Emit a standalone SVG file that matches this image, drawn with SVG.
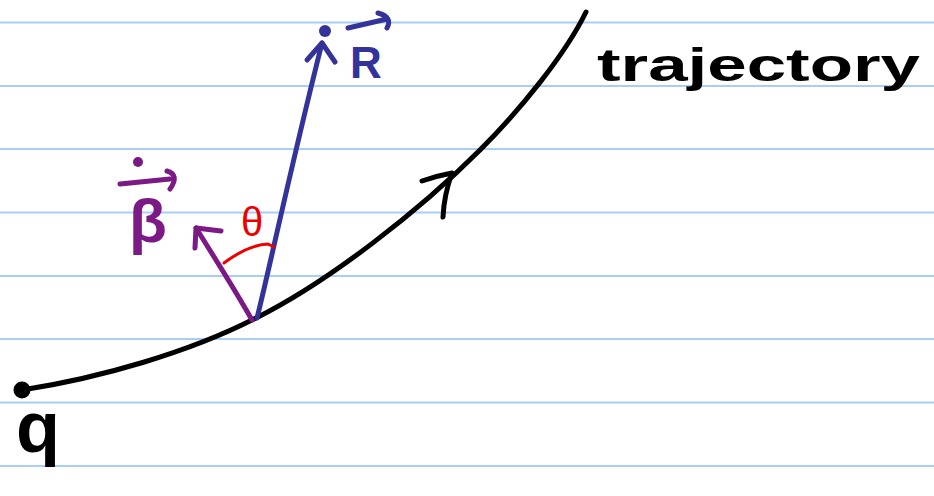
<svg xmlns="http://www.w3.org/2000/svg" width="934" height="496" viewBox="0 0 934 496">
<style>
.rule{stroke:#a8cdf8;stroke-width:2;fill:none}
.ink{fill:none;stroke-linecap:round;stroke-linejoin:round}
.blk{stroke:#000;stroke-width:5}
.blu{stroke:#333399;stroke-width:5}
.pur{stroke:#7b1985;stroke-width:5}
.red{stroke:#ee0000;stroke-width:3}
.lbl{font-family:"Liberation Sans","DejaVu Sans",sans-serif}
.b{font-weight:bold}
</style>
<rect width="934" height="496" fill="#fff"/>
<g id="ruled-lines">
<line class="rule" x1="0" y1="22.5" x2="934" y2="22.5"/>
<line class="rule" x1="0" y1="86" x2="934" y2="86"/>
<line class="rule" x1="0" y1="149" x2="934" y2="149"/>
<line class="rule" x1="0" y1="212.5" x2="934" y2="212.5"/>
<line class="rule" x1="0" y1="276" x2="934" y2="276"/>
<line class="rule" x1="0" y1="339" x2="934" y2="339"/>
<line class="rule" x1="0" y1="402.5" x2="934" y2="402.5"/>
<line class="rule" x1="0" y1="466" x2="934" y2="466"/>
</g>
<g id="trajectory">
<path class="ink blk" d="M22,390 C100,378 190,352 256,318 C330,281 420,210 480,150 C520,110 565,55 586,12"/>
<path class="ink blk" d="M422,181 Q436,176 452,173 Q444,195 443,217"/>
<circle cx="22" cy="390" r="8.5" fill="#000"/>
<text class="lbl b" x="597" y="81" font-size="46" textLength="323" lengthAdjust="spacingAndGlyphs" fill="#000">trajectory</text>
</g>
<g id="charge">
<text class="lbl b" x="16" y="452" font-size="72" fill="#000">q</text>
</g>
<g id="vector-R">
<path class="ink blu" d="M257,318 C268,275 290,170 322,43"/>
<path class="ink blu" d="M307,60 L322,43 L335,62"/>
<circle cx="325" cy="31" r="6" fill="#333399"/>
<text class="lbl b" x="350" y="78" font-size="44" fill="#333399">R</text>
<path class="ink blu" d="M348,28 L387,19 M378,13 Q393,17 387,28"/>
</g>
<g id="vector-beta">
<path class="ink pur" d="M252,320 Q235,290 196,228"/>
<path class="ink pur" d="M195,248 L196,228 L221,231"/>
<text class="lbl b" x="129" y="242" font-size="62" fill="#7b1985">β</text>
<circle cx="138" cy="162" r="5" fill="#7b1985"/>
<path class="ink pur" d="M120,184 L170,179 M167,171 Q180,175 170,189"/>
</g>
<g id="angle-theta">
<path class="ink red" d="M224,263 Q248,245 268,244 L274,247"/>
<text class="lbl" x="241" y="236" font-size="40" fill="#ee0000">θ</text>
</g>
</svg>
